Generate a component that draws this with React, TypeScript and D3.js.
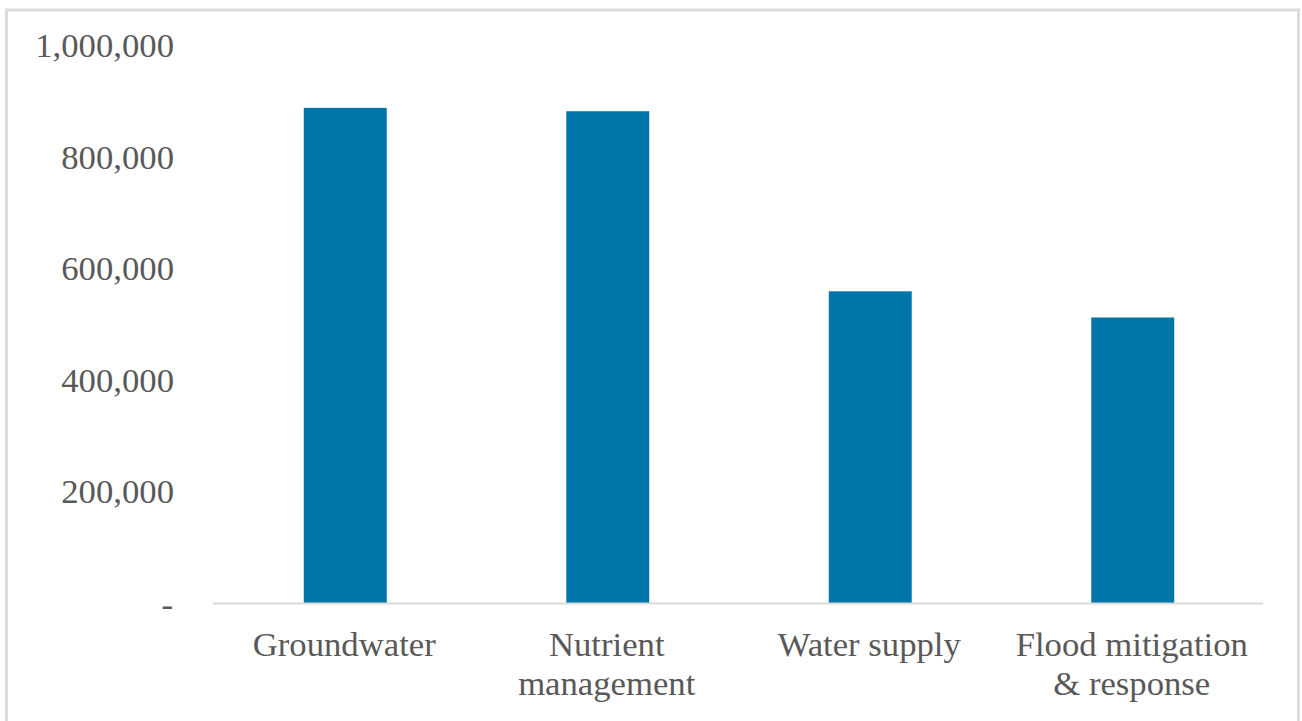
import React from "react";
import * as d3 from "d3";

// Spending by programme area
const categories: string[][] = [
  ["Groundwater"],
  ["Nutrient", "management"],
  ["Water supply"],
  ["Flood mitigation", "& response"],
];
const values: number[] = [889000, 883000, 560000, 513000];
const yTicks: number[] = [0, 200000, 400000, 600000, 800000, 1000000];

const W = 1302;
const H = 721;
const plot = { left: 213, right: 1263, top: 46, bottom: 603.5 };
const barColor = "#0076A8";
const textColor = "#595959";
const font = "'Liberation Serif', 'Times New Roman', serif";
const fontSize = 34.7;

export default function App() {
  const keys = categories.map((c) => c.join(" "));
  const x = d3.scaleBand<string>().domain(keys).range([plot.left, plot.right]).padding(0);
  const y = d3.scaleLinear().domain([0, 1000000]).range([plot.bottom, plot.top]);
  const barW = x.bandwidth() * 0.316;
  const fmt = (v: number) => (v === 0 ? "-" : d3.format(",")(v));

  return (
    <svg
      width={W}
      height={H}
      style={{ position: "absolute", left: 0, top: 0, background: "#fff" }}
    >
      <rect x={6.5} y={10} width={1292} height={H + 20} fill="#fff" stroke="#dcdcdc" strokeWidth={3} />

      {yTicks.map((t) => (
        <text
          key={t}
          x={t === 0 ? 173 : 174}
          y={y(t) + (t === 0 ? 12 : 11)}
          textAnchor="end"
          fontFamily={font}
          fontSize={fontSize}
          fill={textColor}
        >
          {fmt(t)}
        </text>
      ))}

      {values.map((v, i) => {
        const cx = (x(keys[i]) as number) + x.bandwidth() / 2 + 1;
        return (
          <rect
            key={keys[i]}
            x={cx - barW / 2}
            y={y(v)}
            width={barW}
            height={y(0) - y(v)}
            fill={barColor}
          />
        );
      })}

      <line
        x1={plot.left}
        x2={plot.right}
        y1={y(0)}
        y2={y(0)}
        stroke="#d9d9d9"
        strokeWidth={2}
      />

      {categories.map((lines, i) => {
        const cx = (x(keys[i]) as number) + x.bandwidth() / 2;
        return (
          <text
            key={keys[i]}
            textAnchor="middle"
            fontFamily={font}
            fontSize={fontSize}
            fill={textColor}
          >
            {lines.map((ln, j) => (
              <tspan key={j} x={cx} y={656 + j * 39}>
                {ln}
              </tspan>
            ))}
          </text>
        );
      })}
    </svg>
  );
}
